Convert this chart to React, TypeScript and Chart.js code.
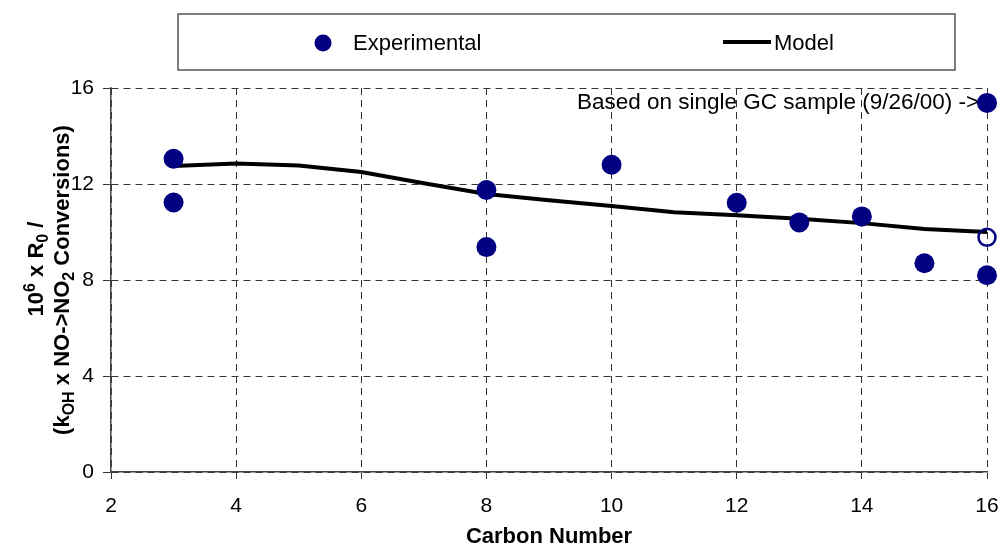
import React, { useEffect, useRef } from "react";
import { Chart, registerables } from "chart.js";

Chart.register(...registerables);

const FONT = "'Liberation Sans', Arial, sans-serif";

// Data
const expCarbon = [3, 3, 8, 8, 10, 12, 13, 14, 15, 16, 16];
const expValues = [13.05, 11.23, 11.75, 9.37, 12.8, 11.22, 10.4, 10.65, 8.7, 8.2, 15.38];
const singleCarbon = [16];
const singleValues = [9.78];
const modelCarbon = [3, 4, 5, 6, 7, 8, 9, 10, 11, 12, 13, 14, 15, 16];
const modelValues = [12.75, 12.85, 12.77, 12.5, 12.03, 11.58, 11.32, 11.08, 10.82, 10.7, 10.55, 10.37, 10.13, 10.0];
const xTicks = [2, 4, 6, 8, 10, 12, 14, 16];
const yTicks = [0, 4, 8, 12, 16];
const legendLabels = ["Experimental", "Model"];
const xTitle = "Carbon Number";
const annotationText = "Based on single GC sample (9/26/00) ->";

type Part = [string, "n" | "sup" | "sub"];
const yTitle1: Part[] = [["10", "n"], ["6", "sup"], [" x R", "n"], ["0", "sub"], [" /", "n"]];
const yTitle2: Part[] = [["(k", "n"], ["OH", "sub"], [" x NO->NO", "n"], ["2", "sub"], [" Conversions)", "n"]];

function drawRich(ctx: CanvasRenderingContext2D, parts: Part[], cx: number, cy: number, size: number) {
  const small = Math.round(size * 0.72);
  const fontFor = (m: string) => `bold ${m === "n" ? size : small}px ${FONT}`;
  let total = 0;
  for (const [t, m] of parts) {
    ctx.font = fontFor(m);
    total += ctx.measureText(t).width;
  }
  ctx.save();
  ctx.translate(cx, cy);
  ctx.rotate(-Math.PI / 2);
  ctx.fillStyle = "#000";
  ctx.textBaseline = "alphabetic";
  ctx.textAlign = "left";
  const base = size * 0.716 / 2;
  let x = -total / 2;
  for (const [t, m] of parts) {
    ctx.font = fontFor(m);
    const dy = m === "sup" ? -size * 0.36 : m === "sub" ? size * 0.22 : 0;
    ctx.fillText(t, x, base + dy);
    x += ctx.measureText(t).width;
  }
  ctx.restore();
}

const decorPlugin = {
  id: "decor",
  beforeDatasetsDraw(chart: any) {
    const ctx: CanvasRenderingContext2D = chart.ctx;
    ctx.save();
    ctx.font = `22.5px ${FONT}`;
    ctx.fillStyle = "#000";
    ctx.textBaseline = "middle";
    ctx.textAlign = "left";
    ctx.fillText(annotationText, 577, 103);
    ctx.restore();
  },
  afterDraw(chart: any) {
    const ctx: CanvasRenderingContext2D = chart.ctx;
    // legend box
    ctx.save();
    ctx.strokeStyle = "#555";
    ctx.lineWidth = 1.5;
    ctx.strokeRect(178, 14, 777, 56);
    ctx.fillStyle = "#000080";
    ctx.beginPath();
    ctx.arc(323, 43, 8.5, 0, Math.PI * 2);
    ctx.fill();
    ctx.font = `22px ${FONT}`;
    ctx.fillStyle = "#000";
    ctx.textBaseline = "middle";
    ctx.textAlign = "left";
    ctx.fillText(legendLabels[0], 353, 44);
    ctx.strokeStyle = "#000";
    ctx.lineWidth = 4;
    ctx.beginPath();
    ctx.moveTo(723, 42);
    ctx.lineTo(771, 42);
    ctx.stroke();
    ctx.fillText(legendLabels[1], 774, 44);
    ctx.restore();
    // y title
    drawRich(ctx, yTitle1, 35, 269, 22);
    drawRich(ctx, yTitle2, 61, 280, 22);
  },
};

export default function App() {
  const ref = useRef<HTMLCanvasElement | null>(null);
  useEffect(() => {
    if (!ref.current) return;
    const chart = new Chart(ref.current, {
      type: "scatter",
      data: {
        datasets: [
          {
            label: legendLabels[0],
            data: expCarbon.map((c, i) => ({ x: c, y: expValues[i] })),
            backgroundColor: "#000080",
            borderColor: "#000080",
            borderWidth: 0,
            pointRadius: 10,
            pointHoverRadius: 10,
            clip: false,
          } as any,
          {
            label: "Single GC sample",
            data: singleCarbon.map((c, i) => ({ x: c, y: singleValues[i] })),
            backgroundColor: "rgba(0,0,0,0)",
            borderColor: "#000080",
            borderWidth: 2.5,
            pointRadius: 8.5,
            pointHoverRadius: 8.5,
            clip: false,
          } as any,
          {
            label: legendLabels[1],
            data: modelCarbon.map((c, i) => ({ x: c, y: modelValues[i] })),
            showLine: true,
            borderColor: "#000",
            backgroundColor: "#000",
            borderWidth: 4,
            pointRadius: 0,
            pointHoverRadius: 0,
            tension: 0,
            clip: false,
          } as any,
        ],
      },
      options: {
        animation: false,
        responsive: true,
        maintainAspectRatio: false,
        layout: { padding: { top: 88, right: 16, left: 0, bottom: 0 } },
        plugins: {
          legend: { display: false },
          tooltip: { enabled: false },
        },
        scales: {
          x: {
            type: "linear",
            min: 2,
            max: 16,
            afterFit: (s: any) => {
              s.height = 76;
              s.paddingLeft = 0;
              s.paddingRight = 0;
            },
            afterBuildTicks: (s: any) => {
              s.ticks = xTicks.map((v) => ({ value: v }));
            },
            ticks: {
              stepSize: 2,
              color: "#000",
              font: { family: FONT, size: 21 },
              padding: 15,
              maxRotation: 0,
            },
            grid: {
              color: "#333",
              lineWidth: 1,
              tickLength: 7,
              tickColor: "#333",
              tickBorderDash: [],
            },
            border: { display: true, color: "#444", width: 1.5, dash: [7, 5] },
            title: {
              display: true,
              text: xTitle,
              color: "#000",
              font: { family: FONT, size: 22, weight: "bold", lineHeight: 1 },
              padding: { top: 0, bottom: 0 },
            },
          },
          y: {
            type: "linear",
            min: 0,
            max: 16,
            afterFit: (s: any) => {
              s.width = 111;
              s.paddingTop = 0;
              s.paddingBottom = 0;
            },
            afterBuildTicks: (s: any) => {
              s.ticks = yTicks.map((v) => ({ value: v }));
            },
            ticks: {
              stepSize: 4,
              color: "#000",
              font: { family: FONT, size: 21 },
              padding: 9,
            },
            grid: {
              color: "#333",
              lineWidth: 1,
              tickLength: 8,
              tickColor: "#333",
              tickBorderDash: [],
            },
            border: { display: true, color: "#444", width: 1.5, dash: [7, 5] },
            title: { display: false },
          },
        },
      },
      plugins: [decorPlugin],
    });
    return () => chart.destroy();
  }, []);
  return (
    <div style={{ position: "absolute", left: 0, top: 0, width: 1003, height: 548, background: "#fff" }}>
      <canvas ref={ref} />
    </div>
  );
}
